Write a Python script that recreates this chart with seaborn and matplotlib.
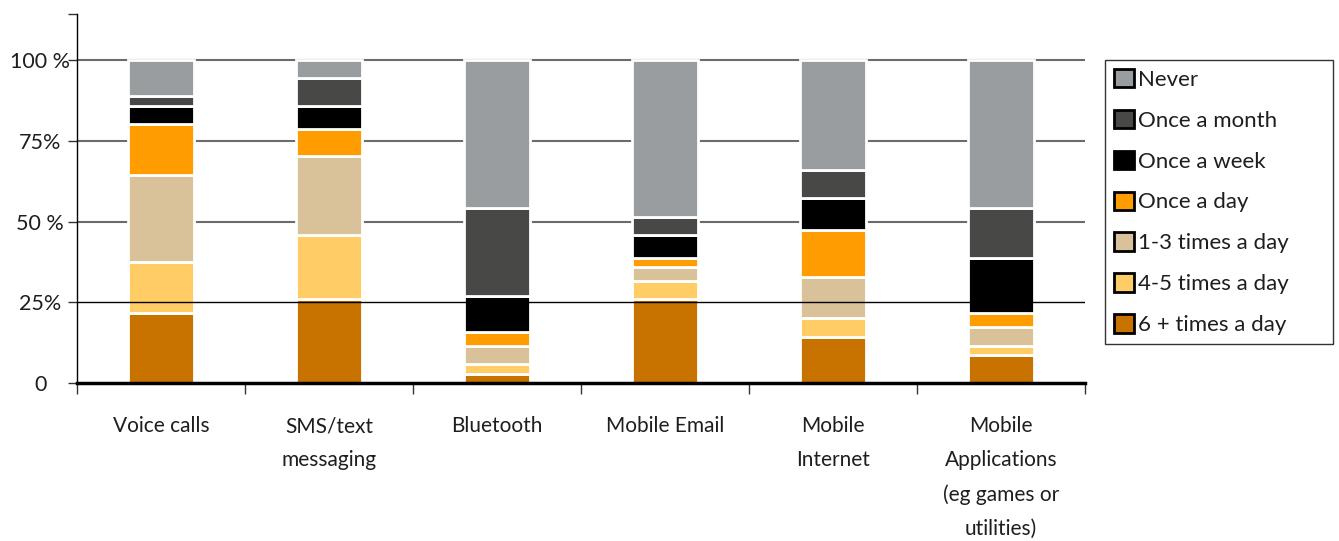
import numpy as np
import pandas as pd
import matplotlib
matplotlib.use("Agg")
import matplotlib.pyplot as plt
from matplotlib.patches import Patch
import seaborn as sns

# Usage categories along the x axis
categories = ["Voice calls", "SMS/text\nmessaging", "Bluetooth", "Mobile Email",
              "Mobile\nInternet", "Mobile\nApplications\n(eg games or\nutilities)"]

# Share of respondents (%) per frequency, stacked bottom to top
six_plus = [21.6, 26.0, 2.9, 26.0, 14.4, 8.7]
four_five = [15.8, 19.9, 2.9, 5.5, 5.8, 2.8]
one_three = [27.1, 24.4, 5.7, 4.4, 12.8, 5.8]
once_day = [15.8, 8.4, 4.3, 2.8, 14.3, 4.3]
once_week = [5.7, 7.3, 11.3, 7.2, 10.0, 17.1]
once_month = [2.9, 8.6, 27.2, 5.6, 8.7, 15.6]
never = [11.1, 5.4, 45.7, 48.5, 34.0, 45.7]

series_names = ["6 + times a day", "4-5 times a day", "1-3 times a day",
                "Once a day", "Once a week", "Once a month", "Never"]
series_values = [six_plus, four_five, one_three, once_day, once_week, once_month, never]
series_colors = ["#C87200", "#FFCC66", "#D9C29A", "#FF9C00", "#000000", "#484846", "#9A9D9F"]

y_ticks = [0, 25, 50, 75, 100, 114.4]
y_tick_labels = ["0", "25%", "50 %", "75%", "100 %", ""]

sns.set_theme(style="white")
plt.rcParams["font.family"] = ["Lato", "DejaVu Sans"]
text_color = "#1e1e1e"

fig = plt.figure(figsize=(13.39, 5.41), dpi=100)
ax = fig.add_axes([77 / 1339, 1 - 383 / 541, (1085 - 77) / 1339, (383 - 14) / 541])

bottom = np.zeros(len(categories))
for name, vals, col in zip(series_names, series_values, series_colors):
    df = pd.DataFrame({"category": categories, "share": vals})
    sns.barplot(data=df, x="category", y="share", order=categories, color=col,
                saturation=1, width=0.39, bottom=bottom.copy(), errorbar=None,
                edgecolor="white", linewidth=2, zorder=2, ax=ax)
    bottom += np.array(vals)

ax.set_xlim(-0.5, 5.5)
ax.set_ylim(0, 114.4)
ax.set_xlabel("")
ax.set_ylabel("")

# Reference lines: grey behind the bars, the 25% line on top
for v in [50, 75, 100]:
    ax.axhline(v, color="#6b6b6b", lw=1.5, zorder=1)
ax.axhline(25, color="black", lw=1, zorder=3)

for side in ["top", "right"]:
    ax.spines[side].set_visible(False)
ax.spines["left"].set_color("black")
ax.spines["left"].set_linewidth(1)
ax.spines["bottom"].set_color("black")
ax.spines["bottom"].set_linewidth(2.5)
ax.spines["bottom"].set_zorder(4)

ax.set_yticks(y_ticks)
ax.set_yticklabels(y_tick_labels)
ax.tick_params(axis="y", left=True, length=6.5, width=1, color="#333333",
               pad=20, labelsize=15.5, labelcolor=text_color)
for t in ax.get_yticklabels():
    t.set_horizontalalignment("center")

ax.set_xticks(range(len(categories)))
ax.set_xticklabels(categories, linespacing=1.86)
ax.set_xticks(np.arange(-0.5, len(categories), 1), minor=True)
ax.tick_params(axis="x", which="major", bottom=True, length=0, pad=24,
               labelsize=15, labelcolor=text_color)
ax.tick_params(axis="x", which="minor", bottom=True, length=8, width=1,
               color="#333333")

handles = [Patch(facecolor=c, edgecolor="black", linewidth=2, label=n)
           for n, c in zip(series_names[::-1], series_colors[::-1])]
leg = fig.legend(handles=handles, loc="upper left",
                 bbox_to_anchor=(1105 / 1339, (541 - 340) / 541, 228 / 1339, 280 / 541),
                 mode="expand", frameon=True, fancybox=False, edgecolor="black",
                 fontsize=16, handlelength=0.9, handleheight=0.9, handletextpad=0.2,
                 labelspacing=0.9, borderpad=0.4, borderaxespad=0)
leg.get_frame().set_linewidth(1)
for t in leg.get_texts():
    t.set_color(text_color)

fig.savefig("out.png", dpi=100)
